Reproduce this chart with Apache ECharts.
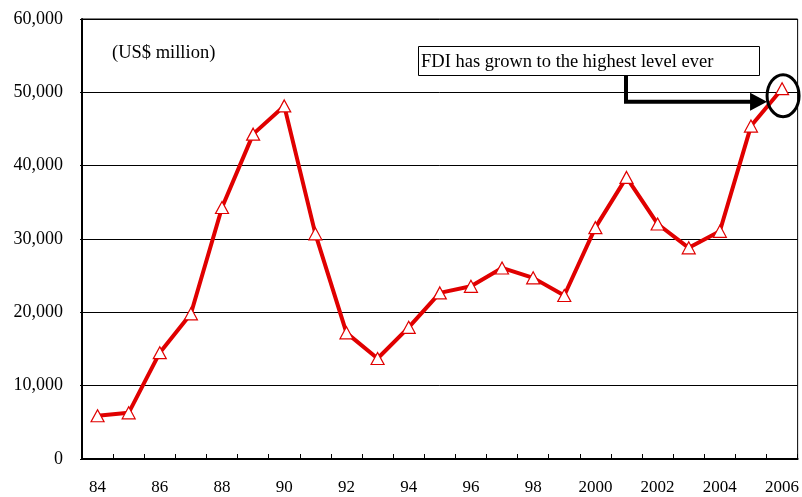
<!DOCTYPE html>
<html>
<head>
<meta charset="utf-8">
<script src="https://cdn.jsdelivr.net/npm/echarts@6/dist/echarts.min.js"></script>
<style>
html,body{margin:0;padding:0;background:#fff;}
#c{width:802px;height:497px;}
</style>
</head>
<body>
<div id="c"></div>
<script>
var categories = ['84','85','86','87','88','89','90','91','92','93','94','95','96','97','98','99','2000','2001','2002','2003','2004','2005','2006'];
var fdiValues = [5900, 6300, 14500, 19800, 34300, 44300, 48150, 30700, 17200, 13700, 17950, 22650, 23550, 26050, 24700, 22300, 31550, 38400, 32050, 28800, 31050, 45400, 50500];
var yTicks = { min: 0, max: 60000, interval: 10000 };
var unitText = '(US$ million)';
var noteText = 'FDI has grown to the highest level ever';

var FONT = 'Liberation Serif, Times New Roman, serif';
var chart = echarts.init(document.getElementById('c'), null, {renderer: 'canvas'});
chart.setOption({
  animation: false,
  backgroundColor: '#fff',
  grid: { left: 82, right: 1, top: 19, bottom: 38, show: true, borderColor: '#000', borderWidth: 1 },
  xAxis: {
    type: 'category',
    data: categories,
    boundaryGap: true,
    axisLine: { lineStyle: { color: '#000', width: 2 } },
    axisTick: { show: true, inside: true, length: 5, interval: 0, lineStyle: { color: '#000', width: 1 } },
    axisLabel: { interval: 1, margin: 20, color: '#000', fontFamily: FONT, fontSize: 17 },
    splitLine: { show: false }
  },
  yAxis: {
    type: 'value',
    min: yTicks.min, max: yTicks.max, interval: yTicks.interval,
    axisLine: { show: true, lineStyle: { color: '#000', width: 2 } },
    axisTick: { show: true, length: 2, lineStyle: { color: '#000' } },
    axisLabel: {
      margin: 19, color: '#000', fontFamily: FONT, fontSize: 18,
      formatter: function (v) { return v.toLocaleString('en-US'); }
    },
    splitLine: { show: true, lineStyle: { color: '#000', width: 1 } }
  },
  series: [{
    type: 'line',
    data: fdiValues,
    symbol: 'triangle',
    symbolSize: [13, 12],
    showAllSymbol: true,
    z: 3,
    lineStyle: { color: '#e00000', width: 4 },
    itemStyle: { color: '#fff', borderColor: '#e00000', borderWidth: 1.2 }
  }]
});

var last = fdiValues.length - 1;
var p = chart.convertToPixel({ gridIndex: 0 }, [last, fdiValues[last]]);
var cx = p[0] + 1, cy = p[1] + 7;
var tipX = cx - 16, tipY = cy + 6;
chart.setOption({
  graphic: [
    { type: 'text', x: 112, y: 53, style: { text: unitText, font: '18.5px ' + FONT, fill: '#000', textVerticalAlign: 'middle' } },
    { type: 'rect', shape: { x: 418.5, y: 46.5, width: 341, height: 29 }, style: { fill: '#fff', stroke: '#000', lineWidth: 1 }, z: 10 },
    { type: 'text', x: 421, y: 62, style: { text: noteText, font: '18.5px ' + FONT, fill: '#000', textVerticalAlign: 'middle' }, z: 11 },
    { type: 'polyline', shape: { points: [[626, 76], [626, tipY], [tipX - 14, tipY]] }, style: { stroke: '#000', lineWidth: 4, fill: null }, z: 10 },
    { type: 'polygon', shape: { points: [[tipX - 17, tipY - 9], [tipX, tipY], [tipX - 17, tipY + 9]] }, style: { fill: '#000' }, z: 10 },
    { type: 'ellipse', shape: { cx: cx, cy: cy, rx: 16, ry: 21 }, style: { fill: null, stroke: '#000', lineWidth: 3 }, z: 10 }
  ]
});
</script>
</body>
</html>
